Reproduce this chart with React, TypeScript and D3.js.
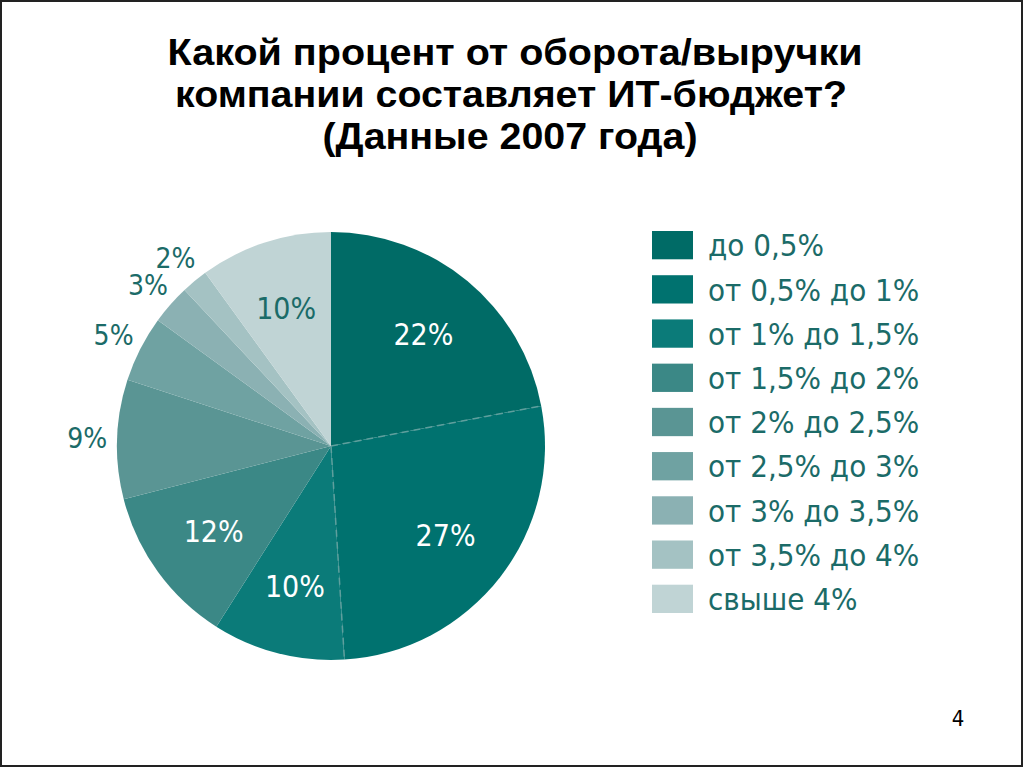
import React from 'react';
import * as d3 from 'd3';

// IT budget as % of company revenue (2007)
const categories = [
  'до 0,5%',
  'от 0,5% до 1%',
  'от 1% до 1,5%',
  'от 1,5% до 2%',
  'от 2% до 2,5%',
  'от 2,5% до 3%',
  'от 3% до 3,5%',
  'от 3,5% до 4%',
  'свыше 4%',
];
const shares = [22, 27, 10, 12, 9, 5, 3, 2, 10];
const colors = [
  '#006b66', '#00726f', '#0b7b79', '#3b8886', '#5a9594',
  '#6fa2a2', '#8bb1b3', '#a4c2c3', '#c0d4d5',
];
// which labels go outside the pie, and which are drawn white
const outside = [false, false, false, false, true, true, true, true, false];
const whiteLabel = [true, true, true, true, false, false, false, false, false];
// boundaries drawn as dashed lines (between near-identical colours)
const dashedAfter = [0, 1];

const titleLines = [
  'Какой процент от оборота/выручки',
  'компании составляет ИТ-бюджет?',
  '(Данные 2007 года)',
];
const titleWidths = [695, 672, 375];

const W = 1024;
const H = 768;
const cx = 331;
const cy = 446;
const R = 214;
const textColor = '#1b6b68';
const narrow = "'DejaVu Sans Condensed', 'Liberation Sans Narrow', 'Arial Narrow', sans-serif";
const titleFont = "'Liberation Sans', Arial, Helvetica, sans-serif";

export default function App() {
  const pie = d3.pie<number>().sort(null).value(d => d);
  const arcs = pie(shares);
  const arc = d3.arc<d3.PieArcDatum<number>>().innerRadius(0).outerRadius(R);
  const inLabel = d3.arc<d3.PieArcDatum<number>>().innerRadius(145).outerRadius(145);
  const outLabel = d3.arc<d3.PieArcDatum<number>>().innerRadius(244).outerRadius(244);

  const legendY = d3.scaleBand<string>()
    .domain(categories)
    .range([231, 613])
    .paddingInner(0.36);

  return (
    <svg
      width={W}
      height={H}
      viewBox={`0 0 ${W} ${H}`}
      style={{ position: 'absolute', left: 0, top: 0, background: '#fff' }}
    >
      <rect x={1} y={1} width={W - 3} height={H - 3} fill="#fff" stroke="#222" strokeWidth={2} />

      {titleLines.map((t, i) => (
        <text
          key={i}
          x={512 - titleWidths[i] / 2 + (i === 1 ? -1 : i === 2 ? -2 : 3)}
          y={65 + i * 42}
          textLength={titleWidths[i]}
          lengthAdjust="spacingAndGlyphs"
          fontFamily={titleFont}
          fontWeight="bold"
          fontSize={36}
          fill="#000"
        >
          {t}
        </text>
      ))}

      <g transform={`translate(${cx},${cy})`}>
        {arcs.map((a, i) => (
          <path key={i} d={arc(a) || ''} fill={colors[i]} />
        ))}
        {dashedAfter.map(i => {
          const ang = arcs[i].endAngle;
          return (
            <line
              key={'d' + i}
              x1={0}
              y1={0}
              x2={R * Math.sin(ang)}
              y2={-R * Math.cos(ang)}
              stroke="#5f9f9d"
              strokeWidth={1.5}
              strokeDasharray="7,5"
            />
          );
        })}
        {arcs.map((a, i) => {
          const [x, y] = (outside[i] ? outLabel : inLabel).centroid(a);
          return (
            <text
              key={'l' + i}
              x={x}
              y={y}
              dy="0.36em"
              textAnchor="middle"
              fontFamily={narrow}
              fontSize={outside[i] ? 28 : 30}
              fill={whiteLabel[i] ? '#fff' : textColor}
            >
              {a.data}%
            </text>
          );
        })}
      </g>

      <g>
        {categories.map((c, i) => {
          const y = legendY(c) || 0;
          const h = legendY.bandwidth();
          return (
            <g key={c}>
              <rect x={652} y={y} width={41} height={h} fill={colors[i]} />
              <text
                x={708}
                y={y + h / 2}
                dy="0.36em"
                fontFamily={narrow}
                fontSize={31}
                fill={textColor}
              >
                {c}
              </text>
            </g>
          );
        })}
      </g>

      <text x={958} y={726} textAnchor="middle" fontFamily={narrow} fontSize={22} fill="#000">
        4
      </text>
    </svg>
  );
}
